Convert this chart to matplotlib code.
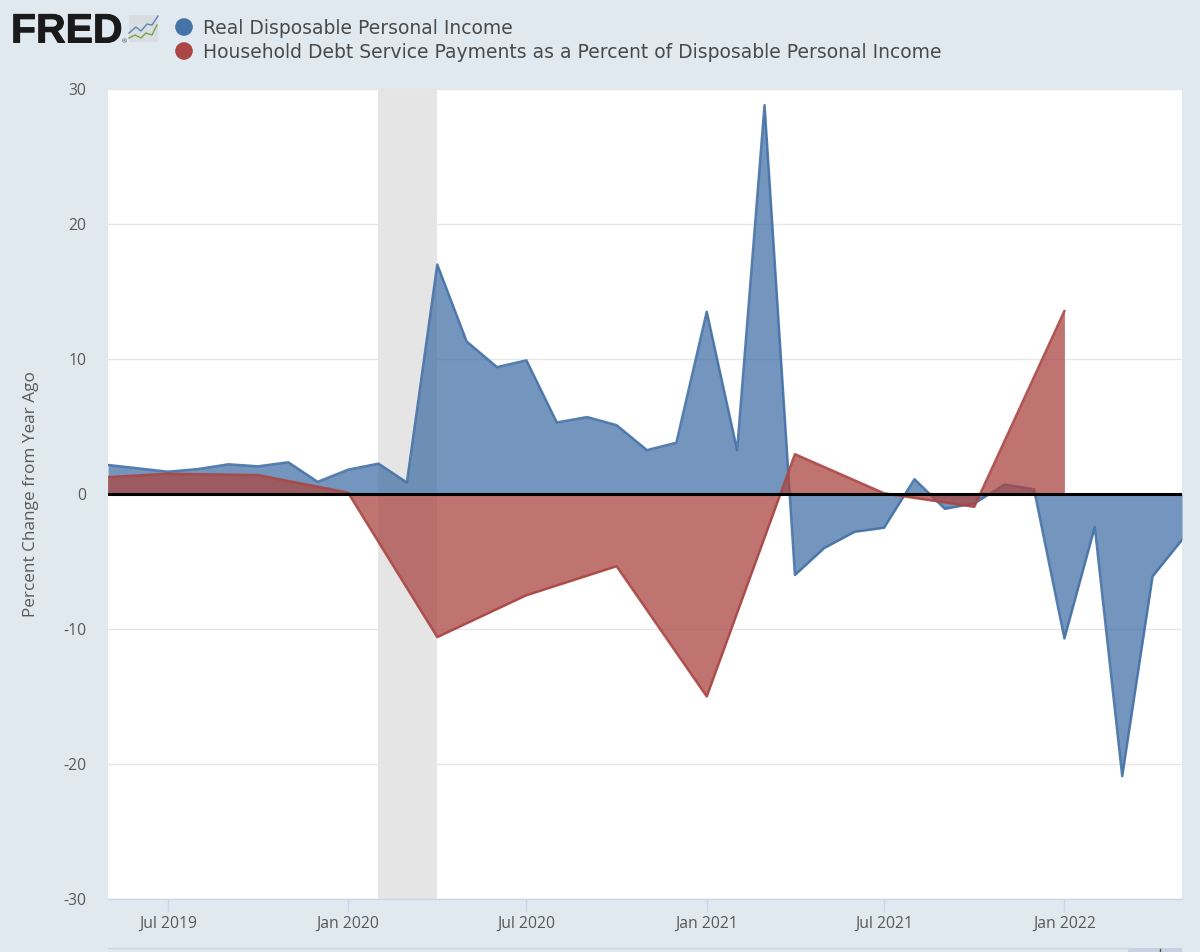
import matplotlib
matplotlib.use('Agg')
import matplotlib.pyplot as plt
import matplotlib.patheffects as pe
import pandas as pd
from matplotlib.patches import Circle, Rectangle

# Monthly percent change from year ago, May 2019 - May 2022
income_dates = pd.date_range('2019-05-01', '2022-05-01', freq='MS')
income_values = [2.15, 1.9, 1.65, 1.85, 2.2, 2.05, 2.35, 0.9, 1.8, 2.25, 0.85, 17.0,
                 11.3, 9.4, 9.9, 5.3, 5.7, 5.1, 3.25, 3.8, 13.5, 3.25, 28.8, -6.0,
                 -4.0, -2.8, -2.5, 1.1, -1.1, -0.7, 0.7, 0.35, -10.7, -2.45, -20.9, -6.1, -3.4]

# Quarterly series, runs off the left edge of the plot
debt_dates = pd.date_range('2019-04-01', '2022-01-01', freq='QS')
debt_values = [1.13, 1.5, 1.4, 0.1, -10.6, -7.5, -5.35, -15.0, 2.95, 0.05, -0.95, 13.55]

recession_start = pd.Timestamp('2020-02-01')
recession_end = pd.Timestamp('2020-04-01')

y_ticks = [-30, -20, -10, 0, 10, 20, 30]
x_ticks = pd.to_datetime(['2019-07-01', '2020-01-01', '2020-07-01', '2021-01-01', '2021-07-01', '2022-01-01'])
x_labels = ['Jul 2019', 'Jan 2020', 'Jul 2020', 'Jan 2021', 'Jul 2021', 'Jan 2022']

legend_labels = ['Real Disposable Personal Income',
                 'Household Debt Service Payments as a Percent of Disposable Personal Income']

BG = '#e1e9f0'
BLUE = '#4572a7'
RED = '#aa4643'
TEXT = '#595959'
W, H = 1200, 952

plt.rcParams['font.family'] = ['Open Sans', 'DejaVu Sans']
plt.rcParams['axes.unicode_minus'] = False

fig = plt.figure(figsize=(W / 100, H / 100), dpi=100, facecolor=BG)
ax = fig.add_axes([108 / W, 1 - 899 / H, (1182 - 108) / W, (899 - 89) / H])
ax.set_facecolor('white')

ax.axvspan(recession_start, recession_end, color='#e5e5e5', lw=0, zorder=1)
ax.set_yticks(y_ticks)
ax.grid(axis='y', color='#e6e6e6', lw=1, zorder=0)
ax.set_axisbelow(True)

ax.fill_between(income_dates, income_values, 0, color=BLUE, alpha=0.75, lw=0, zorder=2)
ax.plot(income_dates, income_values, color=BLUE, lw=1.8, alpha=0.9, zorder=2.1)
ax.fill_between(debt_dates, debt_values, 0, color=RED, alpha=0.75, lw=0, zorder=3)
ax.plot(debt_dates, debt_values, color=RED, lw=1.8, alpha=0.9, zorder=3.1)
ax.axhline(0, color='black', lw=2.2, zorder=4)

ax.set_xlim(pd.Timestamp('2019-05-01'), pd.Timestamp('2022-05-01'))
ax.set_ylim(-30, 30)
ax.set_xticks(x_ticks)
ax.set_xticklabels(x_labels)
ax.tick_params(axis='x', length=9, width=1, color='#ccd6eb', labelsize=11.3, labelcolor=TEXT, pad=3)
ax.tick_params(axis='y', length=0, labelsize=11.3, labelcolor=TEXT, pad=15.5)
for side in ['top', 'left', 'right']:
    ax.spines[side].set_visible(False)
ax.spines['bottom'].set_color('#ccd6eb')
ax.spines['bottom'].set_linewidth(1)
ax.set_ylabel('Percent Change from Year Ago', fontsize=12.3, color=TEXT)
ax.yaxis.set_label_coords(-69 / (1182 - 108), 0.5)

# Overlay in pixel units for the header and the navigator strip
over = fig.add_axes([0, 0, 1, 1], zorder=5)
over.set_xlim(0, W)
over.set_ylim(H, 0)
over.axis('off')

# logo
logo = over.text(11, 42.5, 'FRED', fontsize=29.5, fontweight='bold', family='Liberation Sans',
                 color='#1a1a1a', ha='left', va='baseline')
logo.set_path_effects([pe.withStroke(linewidth=0.7, foreground='#1a1a1a')])
over.text(122, 43, '®', fontsize=4.5, color='#333333', ha='left', va='baseline')
over.add_patch(Rectangle((129, 15), 29, 27, facecolor='#d8dde2', edgecolor='none'))
over.plot([129, 136, 141, 147, 152, 158], [33, 27, 31, 24, 25, 16], color='#5b86b5', lw=1)
over.plot([129, 135, 141, 146, 152, 157], [38, 35, 38, 33, 35, 25], color='#7ea04a', lw=1)

# legend
for y, color, label in zip([27, 51], [BLUE, RED], legend_labels):
    over.add_patch(Circle((184, y), 8.8, facecolor=color, edgecolor='none'))
    over.text(203, y + 2, label, fontsize=13.5, family='DejaVu Sans', color='#4a4a4a', ha='left', va='center')

# navigator
over.plot([108, 1130], [948, 948], color='#cfd6dd', lw=1)
over.add_patch(Rectangle((1128, 948), 54, 4, facecolor='#c5d0e3', edgecolor='none'))
over.plot([1160, 1160], [949, 952], color='#555555', lw=1)

fig.savefig('out.png', dpi=100, facecolor=BG)
